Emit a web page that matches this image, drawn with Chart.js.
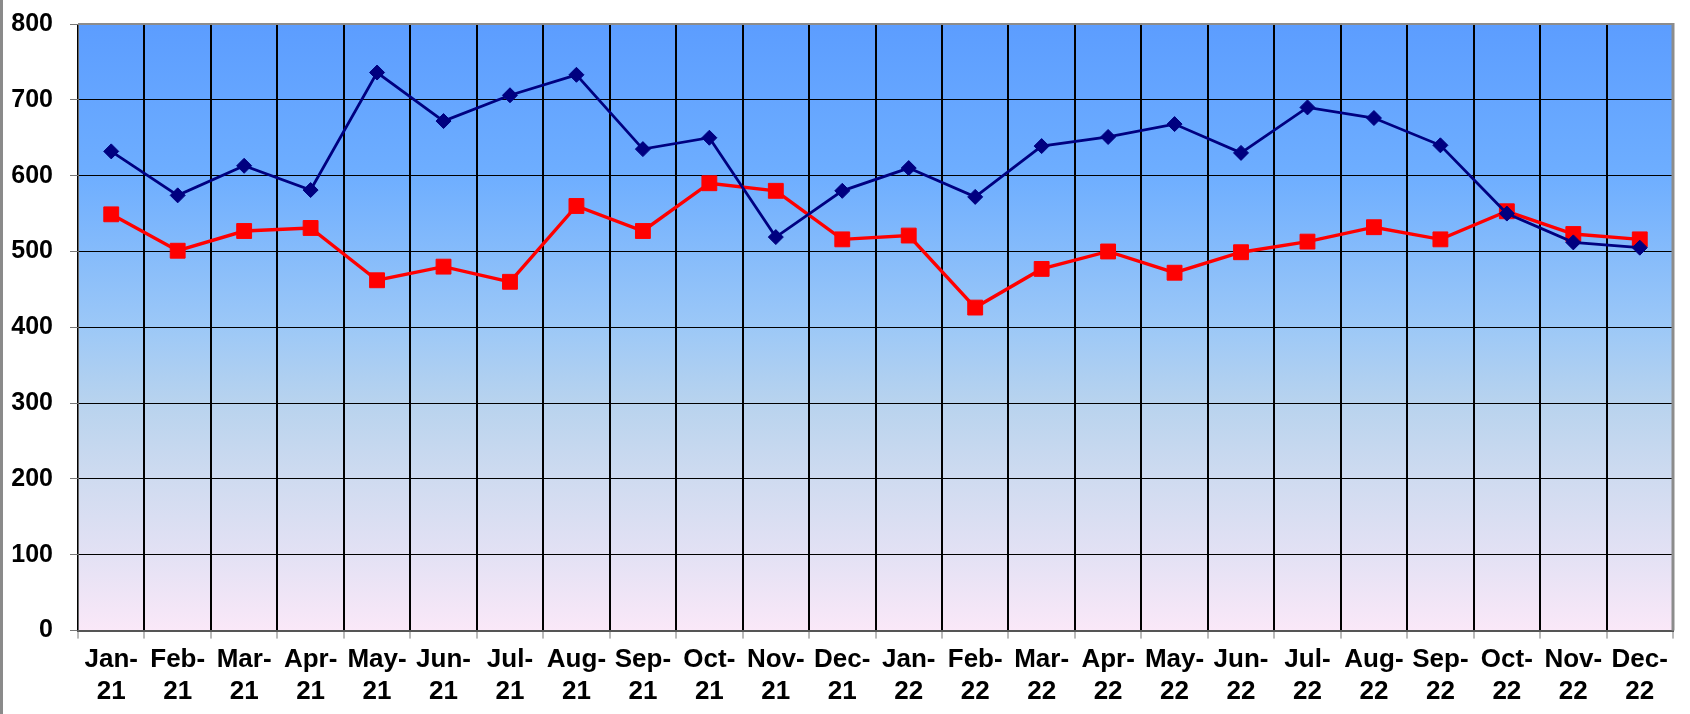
<!DOCTYPE html>
<html lang="en">
<head>
    <meta charset="UTF-8">
    <title>Monthly series 2021-2022</title>
    <style>
        body {
            margin: 0;
            background: #fff;
        }

        #wrap {
            width: 1690px;
            height: 714px;
            position: relative;
        }
    </style>
</head>
<body>
    <div id="wrap">
        <canvas id="lineChart"></canvas>
    </div>
    <script src="https://cdn.jsdelivr.net/npm/chart.js"></script>
    <script>
        // categories (month-year)
        const months = ['Jan-21', 'Feb-21', 'Mar-21', 'Apr-21', 'May-21', 'Jun-21', 'Jul-21', 'Aug-21', 'Sep-21', 'Oct-21', 'Nov-21', 'Dec-21',
            'Jan-22', 'Feb-22', 'Mar-22', 'Apr-22', 'May-22', 'Jun-22', 'Jul-22', 'Aug-22', 'Sep-22', 'Oct-22', 'Nov-22', 'Dec-22'];

        // navy series (diamonds)
        const blueValues = [632, 574, 613, 581, 736, 672, 706, 733, 635, 650, 519, 580,
            610, 572, 639, 651, 668, 630, 690, 676, 640, 550, 512, 505];

        // red series (squares)
        const redValues = [549, 501, 527, 531, 462, 480, 460, 560, 527, 590, 580, 516,
            521, 426, 477, 500, 472, 499, 513, 532, 516, 553, 523, 516];

        // y axis ticks
        const yMin = 0;
        const yMax = 800;
        const yStep = 100;

        const family = "'Liberation Sans', Arial, sans-serif";

        // gradient background of the plot area + frame
        const plotFrame = {
            id: 'plotFrame',
            beforeDraw(chart) {
                const { ctx, chartArea: a } = chart;
                ctx.save();
                const g = ctx.createLinearGradient(0, a.top, 0, a.bottom);
                g.addColorStop(0, '#5c9dff');
                g.addColorStop(0.25, '#6eaeff');
                g.addColorStop(0.5, '#9cc8f7');
                g.addColorStop(0.625, '#b8d3ee');
                g.addColorStop(0.75, '#cfdbf0');
                g.addColorStop(0.875, '#e3e1f4');
                g.addColorStop(1, '#fae8f8');
                ctx.fillStyle = g;
                ctx.fillRect(a.left, a.top, a.right - a.left, a.bottom - a.top);
                // outer chart border on the left
                ctx.fillStyle = '#8a8a8a';
                ctx.fillRect(0, 0, 3, chart.height);
                ctx.restore();
            },
            afterDatasetsDraw(chart) {
                const { ctx, chartArea: a } = chart;
                ctx.save();
                ctx.strokeStyle = '#8c8c8c';
                ctx.lineWidth = 2;
                ctx.beginPath();
                ctx.moveTo(a.left, a.top);
                ctx.lineTo(a.right, a.top);
                ctx.stroke();
                ctx.lineWidth = 3;
                ctx.beginPath();
                ctx.moveTo(a.right, a.top - 1);
                ctx.lineTo(a.right, a.bottom);
                ctx.stroke();
                ctx.restore();
            }
        };

        const ctx = document.getElementById('lineChart').getContext('2d');
        const lineChart = new Chart(ctx, {
            type: 'line',
            data: {
                labels: months,
                datasets: [
                    {
                        label: 'Series 1',
                        data: blueValues,
                        borderColor: '#000080',
                        backgroundColor: '#000080',
                        borderWidth: 2.8,
                        pointStyle: 'rectRot',
                        pointRadius: 7.5,
                        pointBorderWidth: 1,
                        tension: 0
                    },
                    {
                        label: 'Series 2',
                        data: redValues,
                        borderColor: '#ff0000',
                        backgroundColor: '#ff0000',
                        borderWidth: 3.4,
                        pointStyle: 'rect',
                        pointRadius: 10.5,
                        pointBorderWidth: 1,
                        tension: 0
                    }
                ]
            },
            options: {
                responsive: true,
                maintainAspectRatio: false,
                animation: false,
                events: [],
                layout: {
                    padding: { left: 0, right: 17, top: 24, bottom: 1 }
                },
                plugins: {
                    legend: { display: false },
                    tooltip: { enabled: false }
                },
                scales: {
                    x: {
                        offset: true,
                        grid: {
                            offset: true,
                            color: '#000',
                            lineWidth: 2,
                            tickColor: '#777',
                            tickWidth: 1,
                            tickLength: 8
                        },
                        border: { color: '#555', width: 2 },
                        ticks: {
                            color: '#000',
                            font: { family: family, size: 26, weight: 'bold', lineHeight: 1.2 },
                            padding: 6,
                            maxRotation: 0,
                            autoSkip: false,
                            callback: function (value) {
                                const s = this.getLabelForValue(value);
                                const i = s.indexOf('-');
                                return [s.slice(0, i + 1), s.slice(i + 1)];
                            }
                        }
                    },
                    y: {
                        min: yMin,
                        max: yMax,
                        afterFit: function (scale) {
                            // fixed axis width, no extra room above/below for the labels
                            scale.width = 78;
                            scale.paddingTop = 0;
                            scale.paddingBottom = 0;
                        },
                        grid: {
                            color: '#000',
                            lineWidth: 1,
                            tickColor: '#777',
                            tickLength: 8
                        },
                        border: { color: '#666', width: 1 },
                        ticks: {
                            stepSize: yStep,
                            color: '#000',
                            font: { family: family, size: 25, weight: 'bold' },
                            padding: 17
                        }
                    }
                }
            },
            plugins: [plotFrame]
        });
    </script>
</body>
</html>
